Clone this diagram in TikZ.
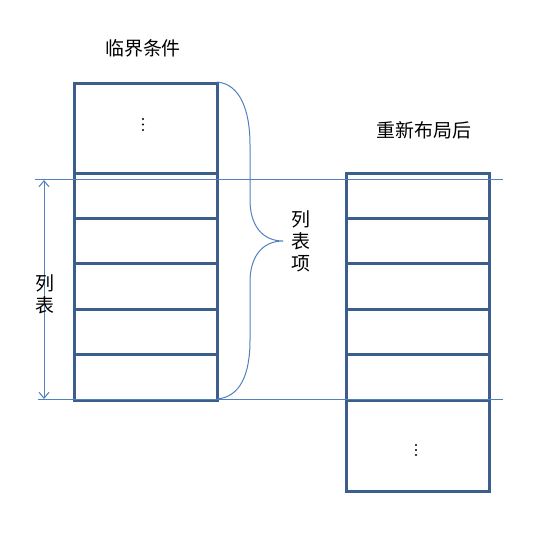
\documentclass[tikz,border=0pt]{standalone}
\usepackage{fontspec}
\newfontfamily\cjk{Noto Sans CJK SC}
\usetikzlibrary{arrows.meta}
\definecolor{boxblue}{HTML}{3B5E8C}
\definecolor{thinblue}{HTML}{4F81BD}
\begin{document}
\begin{tikzpicture}[x=1bp,y=-1bp,
  cell/.style={draw=boxblue,line width=3bp,minimum width=143bp,inner sep=0pt,anchor=north west},
  thin/.style={draw=thinblue,line width=1bp},
  lbl/.style={font=\cjk\fontsize{19}{22}\selectfont,inner sep=0pt,align=center},
  dotc/.style={fill=black,circle,inner sep=0pt,minimum size=2.4bp}]
\useasboundingbox (0,0) rectangle (540,540);
% left stack
\node[cell,minimum height=90bp] (L0) at (73,82) {};
\node[cell,minimum height=45bp] (L1) at (73,172) {};
\node[cell,minimum height=45bp] (L2) at (73,217) {};
\node[cell,minimum height=46bp] (L3) at (73,262) {};
\node[cell,minimum height=45bp] (L4) at (73,308) {};
\node[cell,minimum height=46bp] (L5) at (73,353) {};
% right stack
\node[cell,minimum height=45bp] (R1) at (345,172) {};
\node[cell,minimum height=45bp] (R2) at (345,217) {};
\node[cell,minimum height=46bp] (R3) at (345,262) {};
\node[cell,minimum height=45bp] (R4) at (345,308) {};
\node[cell,minimum height=46bp] (R5) at (345,353) {};
\node[cell,minimum height=91bp] (R6) at (345,399) {};
% dots
\node[dotc] (d1) at (143,119) {};
\node[dotc] (d2) at (143,124.5) {};
\node[dotc] (d3) at (143,130) {};
\node[dotc] (e1) at (416,445) {};
\node[dotc] (e2) at (416,450) {};
\node[dotc] (e3) at (416,455) {};
% thin lines
\coordinate (t1) at (35,180);
\coordinate (t2) at (503,180);
\coordinate (b1) at (38,399);
\coordinate (b2) at (503,399);
\draw[thin] (t1) -- (t2);
\draw[thin] (b1) -- (b2);
\coordinate (a1) at (44,180);
\coordinate (a2) at (44,399);
\draw[thin,{Straight Barb[length=6bp,width=10bp]}-{Straight Barb[length=6bp,width=10bp]}] (a1) -- (a2);
% brace
\coordinate (bt) at (217,82);
\coordinate (bb) at (217,399);
\coordinate (tip) at (283,241);
\draw[thin] (bt) .. controls (240,84) and (250,110) .. (250,145)
  -- (250,200) .. controls (250,225) and (262,241) .. (tip)
  .. controls (262,241) and (250,257) .. (250,282)
  -- (250,340) .. controls (250,375) and (240,397) .. (bb);
% labels
\node[lbl] (title1) at (143,48) {临界条件};
\node[lbl] (title2) at (424,130) {重新布局后};
\node[lbl] (items) at (301,241) {列\\表\\项};
\node[lbl] (list) at (45,294) {列\\表};
\end{tikzpicture}
\end{document}
